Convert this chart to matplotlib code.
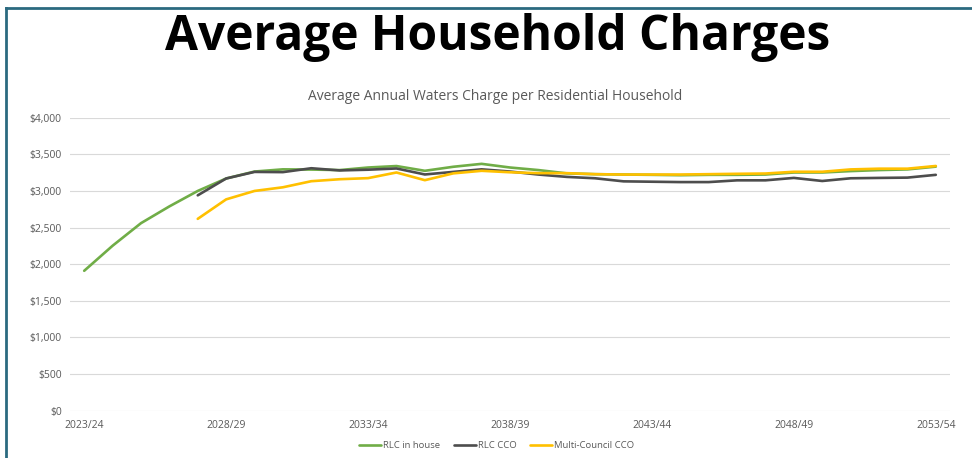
import matplotlib
matplotlib.use("Agg")
import matplotlib.pyplot as plt
from matplotlib.lines import Line2D
from matplotlib.ticker import FuncFormatter
import numpy as np

years = [f"{y}/{str(y+1)[-2:]}" for y in range(2023, 2054)]
tick_labels = ["2023/24", "2028/29", "2033/34", "2038/39", "2043/44", "2048/49", "2053/54"]

rlc_in_house = [1910, 2252, 2560, 2789, 3000, 3170, 3265, 3295, 3292, 3285, 3320, 3340, 3275, 3330, 3370,
                3320, 3285, 3240, 3229, 3224, 3220, 3215, 3220, 3220, 3224, 3252, 3252, 3271, 3285, 3294, 3332]
rlc_cco = [None, None, None, None, 2940, 3170, 3260, 3257, 3310, 3280, 3290, 3307, 3225, 3260, 3295,
           3265, 3224, 3192, 3173, 3131, 3126, 3121, 3121, 3145, 3145, 3178, 3136, 3173, 3178, 3182, 3220]
multi_council_cco = [None, None, None, None, 2619, 2885, 3000, 3050, 3133, 3160, 3175, 3252, 3147, 3240, 3275,
                     3255, 3243, 3243, 3229, 3224, 3224, 3224, 3229, 3234, 3238, 3262, 3262, 3294, 3304, 3304, 3341]

def arr(v):
    return np.array([np.nan if x is None else x for x in v], dtype=float)

fig = plt.figure(figsize=(9.72, 4.58), dpi=100)
fig.patch.set_facecolor("white")

# frame lines (left and top)
border = "#2b6a80"
fig.add_artist(Line2D([6/972, 6/972], [0, 1 - 8/458], color=border, lw=2.0, transform=fig.transFigure))
fig.add_artist(Line2D([6/972, 1], [1 - 8/458, 1 - 8/458], color=border, lw=2.0, transform=fig.transFigure))

fig.text(0.512, 1 - 38/458, "Average Household Charges", ha="center", va="center",
         fontsize=34.5, fontweight="bold", family="Open Sans", color="black")
fig.text(0.509, 1 - 97/458, "Average Annual Waters Charge per Residential Household", ha="center", va="center",
         fontsize=10, family="Open Sans", color="#595959")

ax = fig.add_axes([70/972, 1 - 410.7/458, 880/972, 293/458])
x = np.arange(len(years))
ax.plot(x, arr(rlc_in_house), color="#70ad47", lw=1.9, label="RLC in house", solid_capstyle="round")
ax.plot(x, arr(rlc_cco), color="#4d4d4d", lw=1.9, label="RLC CCO", solid_capstyle="round")
ax.plot(x, arr(multi_council_cco), color="#ffc000", lw=1.9, label="Multi-Council CCO", solid_capstyle="round")

ax.set_xlim(-0.5, len(years) - 0.5)
ax.set_ylim(0, 4000)
ax.set_yticks(np.arange(0, 4001, 500))
ax.yaxis.set_major_formatter(FuncFormatter(lambda v, p: f"${int(v):,}"))
ax.set_xticks([years.index(t) for t in tick_labels])
ax.set_xticklabels(tick_labels)
ax.grid(axis="y", color="#d9d9d9", lw=0.8)
ax.set_axisbelow(True)
for s in ax.spines.values():
    s.set_visible(False)
ax.tick_params(axis="both", length=0, labelsize=7.5, labelcolor="#595959")
ax.tick_params(axis="y", pad=6)
ax.tick_params(axis="x", pad=7)
for lab in ax.get_xticklabels() + ax.get_yticklabels():
    lab.set_family("Open Sans")

leg = fig.legend(loc="center", bbox_to_anchor=(0.511, 1 - 446/458), ncol=3, frameon=False,
                 handlelength=2.3, handletextpad=0.2, columnspacing=1.5,
                 prop={"family": "Open Sans", "size": 6.8})
for t in leg.get_texts():
    t.set_color("#595959")

fig.savefig("out.png", dpi=100, facecolor="white")
